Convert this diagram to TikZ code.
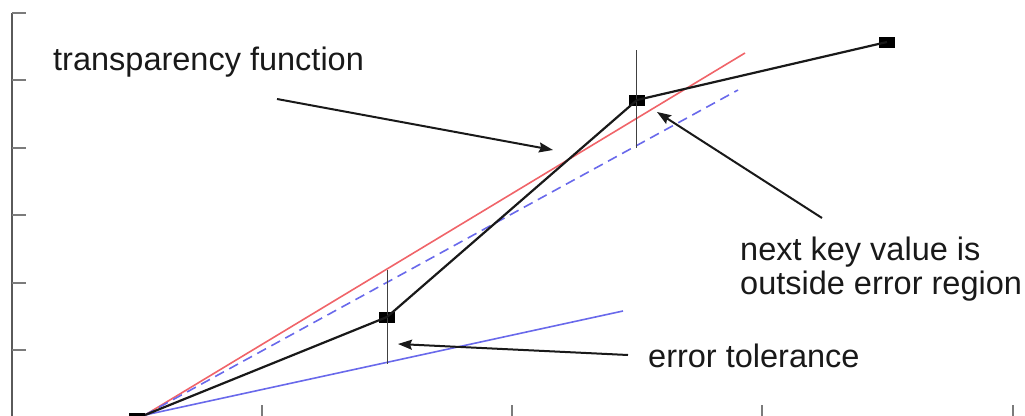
\documentclass[tikz,border=0pt]{standalone}
\usepackage{fontspec}
\setmainfont{Liberation Sans}
\usetikzlibrary{arrows.meta}
\definecolor{redline}{RGB}{240,100,105}
\definecolor{blueline}{RGB}{105,105,235}
\definecolor{axisgray}{RGB}{90,90,90}
\tikzset{
  keypt/.style={fill=black, minimum width=16pt, minimum height=11pt, inner sep=0pt, draw=none},
  curve/.style={line width=2.2pt, black!90},
  errbar/.style={line width=1pt, black!75},
  pointer/.style={line width=2pt, black!90, -{Stealth[length=14pt,width=10pt,inset=2pt]}},
  label/.style={inner sep=0pt, font=\fontsize{32.5}{34}\selectfont, align=left, text=black!90},
  axisline/.style={line width=2pt, axisgray},
  tickline/.style={line width=1.5pt, axisgray!80},
  errline/.style={line width=1.6pt}
}
\begin{document}
\begin{tikzpicture}[x=1pt,y=-1pt]
\useasboundingbox (0,0) rectangle (1025,415);
% axes
\draw[axisline] (12,13) -- (12,416);
\foreach \yy in {13,80,148,215,283,350} \draw[tickline] (12,\yy) -- (26,\yy);
\foreach \xx in {262,512,762,1013} \draw[tickline] (\xx,405) -- (\xx,416);
% key points
\coordinate (k0) at (145,415);
\node[keypt] (k1) at (387,317) {};
\node[keypt] (k2) at (637,100) {};
\node[keypt] (k3) at (887,42) {};
% error lines
\coordinate (redend) at (745,53);
\coordinate (dashend) at (738,90);
\coordinate (blueend) at (623,311);
\draw[redline, errline] (k0) -- (redend);
\draw[blueline, errline, dash pattern=on 10pt off 6pt] (k0) -- (dashend);
\draw[blueline, errline] (k0) -- (blueend);
% error bars
\coordinate (e1t) at (387,270);
\coordinate (e1b) at (387,364);
\coordinate (e2t) at (636,50);
\coordinate (e2b) at (636,148);
\draw[errbar] (e1t) -- (e1b);
\draw[errbar] (e2t) -- (e2b);
% transparency function curve
\draw[curve] (k0) -- (k1.center) -- (k2.center) -- (k3.center);
\node[keypt] (k0n) at (137,418) {};
% labels
\node[label, anchor=base west] (tf) at (53,70) {transparency function};
\node[label, anchor=base west] (nk) at (740,294) {next key value is\\outside error region};
\node[label, anchor=base west] (et) at (648,367) {error tolerance};
% pointers
\coordinate (tfs) at (277,99);
\coordinate (tfe) at (553,150);
\coordinate (nks) at (822,218);
\coordinate (nke) at (657,112);
\coordinate (ets) at (628,355);
\coordinate (ete) at (398,344);
\draw[pointer] (tfs) -- (tfe);
\draw[pointer] (nks) -- (nke);
\draw[pointer] (ets) -- (ete);
\end{tikzpicture}
\end{document}
